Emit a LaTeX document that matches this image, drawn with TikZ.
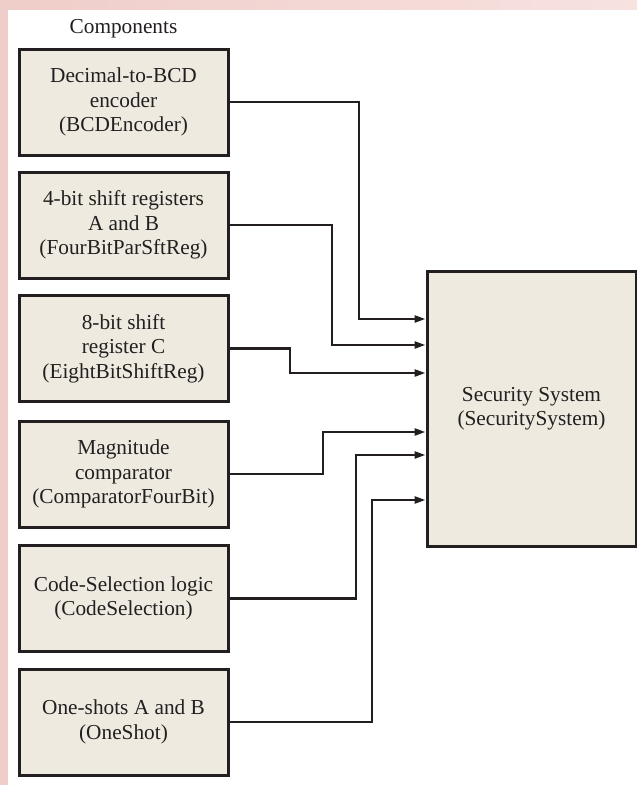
\documentclass[tikz,border=0pt]{standalone}
\usepackage{fontspec}
\setmainfont{Liberation Serif}
\usetikzlibrary{arrows.meta}
\definecolor{boxfill}{RGB}{238,234,224}
\definecolor{ink}{RGB}{35,31,32}
\definecolor{pinkA}{RGB}{239,205,201}
\definecolor{pinkB}{RGB}{247,226,224}
\begin{document}
\begin{tikzpicture}[x=1pt,y=-1pt,
  txt/.style={font=\fontsize{21.3}{24.5}\selectfont, text=ink},
  comp/.style={txt, draw=ink, fill=boxfill, line width=3pt, minimum width=209pt, minimum height=106pt, inner sep=0pt, align=center},
  conn/.style={draw=ink, line width=2.4pt, -{Triangle[length=11pt,width=7pt]}}]
\fill[white] (0,0) rectangle (637,785);
\shade[left color=pinkA, right color=pinkB] (0,0) rectangle (637,9);
\fill[pinkA] (0,0) rectangle (7.5,785);
\useasboundingbox (0,0) rectangle (637,785);

\node[txt] (title) at (123.5,29) {Components};
\node[comp] (b1) at (123.5,102) {Decimal-to-BCD\\encoder\\(BCDEncoder)};
\node[comp] (b2) at (123.5,225) {4-bit shift registers\\A and B\\(FourBitParSftReg)};
\node[comp] (b3) at (123.5,348.5) {8-bit shift\\register C\\(EightBitShiftReg)};
\node[comp] (b4) at (123.5,474) {Magnitude\\comparator\\(ComparatorFourBit)};
\node[comp] (b5) at (123.5,598.5) {Code-Selection logic\\(CodeSelection)};
\node[comp] (b6) at (123.5,722) {One-shots A and B\\(OneShot)};
\node[comp, minimum height=275pt] (sec) at (531.5,408.5) {Security System\\(SecuritySystem)};

\coordinate (k1) at (359,0);
\coordinate (k2) at (332,0);
\coordinate (k3) at (290,0);
\coordinate (k4) at (323,0);
\coordinate (k5) at (356,0);
\coordinate (k6) at (372,0);
\coordinate (y1) at (0,319);
\coordinate (y2) at (0,345);
\coordinate (y3) at (0,373);
\coordinate (y4) at (0,432);
\coordinate (y5) at (0,455);
\coordinate (y6) at (0,500);

\draw[conn] (b1.east) -| (k1 |- y1) -- (sec.west |- y1);
\draw[conn] (b2.east) -| (k2 |- y2) -- (sec.west |- y2);
\draw[conn] (b3.east) -| (k3 |- y3) -- (sec.west |- y3);
\draw[conn] (b4.east) -| (k4 |- y4) -- (sec.west |- y4);
\draw[conn] (b5.east) -| (k5 |- y5) -- (sec.west |- y5);
\draw[conn] (b6.east) -| (k6 |- y6) -- (sec.west |- y6);
\end{tikzpicture}
\end{document}
